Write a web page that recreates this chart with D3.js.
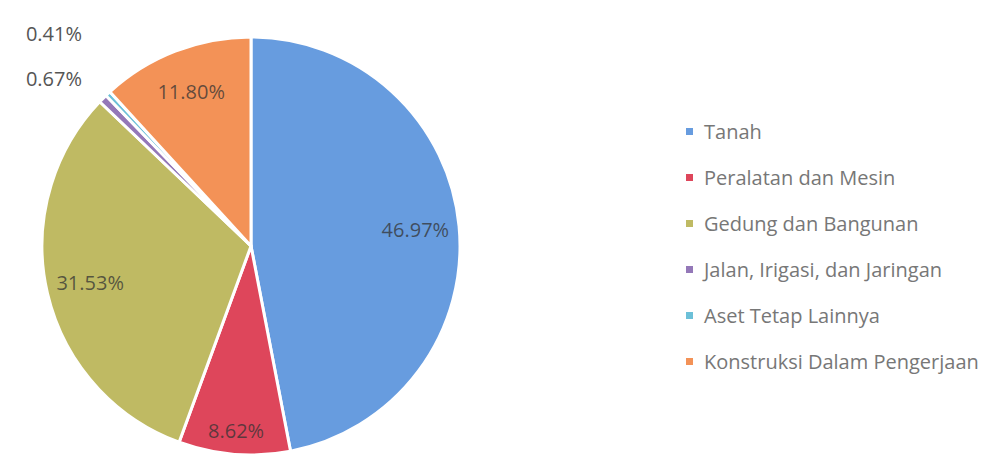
<!DOCTYPE html>
<html>
<head>
<meta charset="utf-8">
<script src="https://cdn.jsdelivr.net/npm/d3@7"></script>
<style>
  body { margin: 0; background: #fff; }
  text { font-family: "Open Sans", "DejaVu Sans", sans-serif; }
</style>
</head>
<body>
<div id="chart"></div>
<script>
// data
var categories = ["Tanah", "Peralatan dan Mesin", "Gedung dan Bangunan",
    "Jalan, Irigasi, dan Jaringan", "Aset Tetap Lainnya", "Konstruksi Dalam Pengerjaan"];
var values = [46.97, 8.62, 31.53, 0.67, 0.41, 11.80];
var labels = ["46.97%", "8.62%", "31.53%", "0.67%", "0.41%", "11.80%"];
var colors = ["#679cdf", "#de465b", "#bfba63", "#9478b8", "#6cc0d8", "#f39257"];

var width = 1004, height = 459;
var cx = 251, cy = 246, radius = 209;

var svg = d3.select("#chart")
    .append("svg")
    .attr("width", width)
    .attr("height", height);

var pie = d3.pie().sort(null).value(function (d) { return d; });
var arcs = pie(values);

var arc = d3.arc().innerRadius(0).outerRadius(radius);

var g = svg.append("g")
    .attr("transform", "translate(" + cx + "," + cy + ")");

g.selectAll("path")
    .data(arcs)
    .enter()
    .append("path")
    .attr("d", arc)
    .style("fill", function (d, i) { return colors[i]; })
    .style("stroke", "#fff")
    .style("stroke-width", 3);

// labels inside the big slices
var labelArc = d3.arc().innerRadius(radius * 0.79).outerRadius(radius * 0.79);
var redArc = d3.arc().innerRadius(radius * 0.89).outerRadius(radius * 0.89);

g.selectAll("text.inside")
    .data(arcs.filter(function (d) { return d.value > 5; }))
    .enter()
    .append("text")
    .attr("class", "inside")
    .attr("transform", function (d) {
        var c = d.value < 10 ? redArc.centroid(d) : labelArc.centroid(d);
        return "translate(" + c + ")";
    })
    .attr("text-anchor", "middle")
    .attr("dy", "0.35em")
    .style("font-size", "20px")
    .style("fill", "#333")
    .style("fill-opacity", 0.75)
    .text(function (d) { return labels[d.index]; });

// small slices labelled outside, top-left
var small = arcs.filter(function (d) { return d.value < 1; });
var outY = d3.scaleOrdinal().domain([3, 4]).range([79, 34]);
svg.selectAll("text.outside")
    .data(small)
    .enter()
    .append("text")
    .attr("class", "outside")
    .attr("x", 82)
    .attr("y", function (d) { return outY(d.index); })
    .attr("dy", "0.35em")
    .attr("text-anchor", "end")
    .style("font-size", "20px")
    .style("fill", "#555")
    .text(function (d) { return labels[d.index]; });

// legend
var legY = d3.scalePoint().domain(categories).range([132, 362]);
var leg = svg.append("g");
leg.selectAll("rect")
    .data(categories)
    .enter()
    .append("rect")
    .attr("x", 686)
    .attr("y", function (d) { return legY(d) - 4; })
    .attr("width", 7)
    .attr("height", 7)
    .style("fill", function (d, i) { return colors[i]; });
leg.selectAll("text")
    .data(categories)
    .enter()
    .append("text")
    .attr("x", 704)
    .attr("y", function (d) { return legY(d); })
    .attr("dy", "0.35em")
    .style("font-size", "20px")
    .style("fill", "#777")
    .text(function (d) { return d; });
</script>
</body>
</html>
